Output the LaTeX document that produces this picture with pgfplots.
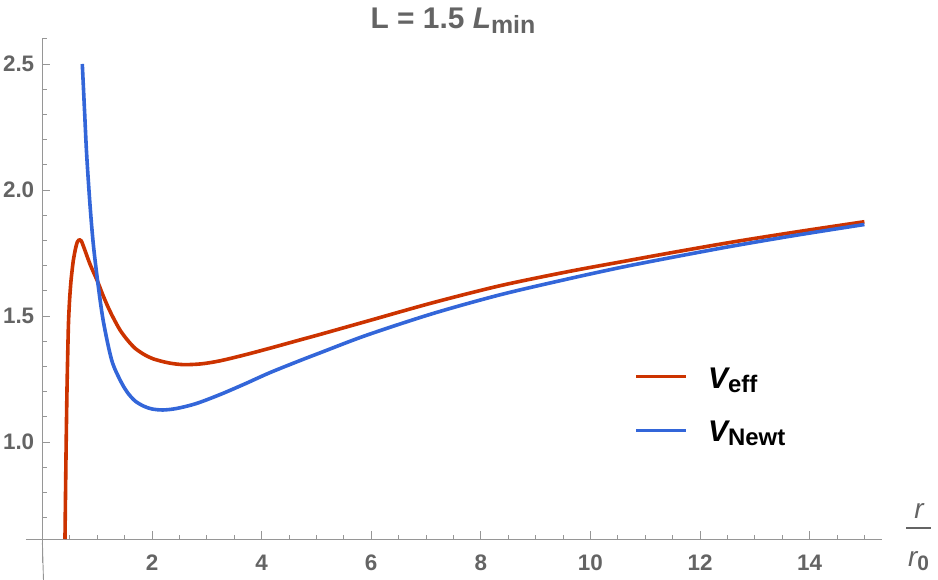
\documentclass[border=0pt]{standalone}
\usepackage{fontspec}
\setmainfont{Liberation Sans}
\usepackage{pgfplots}
\pgfplotsset{compat=1.18}
\definecolor{veffred}{RGB}{204,51,0}
\definecolor{vnewtblue}{RGB}{51,102,217}
\definecolor{axisgray}{RGB}{150,150,150}
\definecolor{labgray}{RGB}{100,100,100}

\begin{document}
\begin{tikzpicture}
\useasboundingbox (0,0) rectangle (938bp,580bp);
\begin{axis}[
  x=54.8bp, y=252bp,
  at={(42.4bp,41bp)}, anchor=south west,
  xmin=0, xmax=15.32, ymin=0.615, ymax=2.6,
  axis x line=bottom, axis y line=left,
  axis line style={axisgray, line width=0.9bp, -},
  tick style={axisgray, line width=0.9bp},
  tick align=inside,
  major tick length=8bp, minor tick length=4.5bp,
  xtick={2,4,6,8,10,12,14}, xticklabels={2,4,6,8,10,12,14},
  minor xtick={0.5,1,...,15},
  ytick={1,1.5,2,2.5}, yticklabels={1.0,1.5,2.0,2.5},
  minor ytick={0.7,0.8,0.9,1.1,1.2,1.3,1.4,1.6,1.7,1.8,1.9,2.1,2.2,2.3,2.4,2.6},
  xticklabel style={font=\fontsize{22.5}{22.5}\selectfont\bfseries, text=labgray, anchor=base, yshift=-31bp},
  yticklabel style={font=\fontsize{22.5}{22.5}\selectfont\bfseries, text=labgray, anchor=east, inner sep=0pt, xshift=-8bp},
  clip=false,
]
% effective potential
\addplot[veffred, line width=3.6bp, smooth, tension=0.5, line join=round] coordinates {
  (0.412,0.615) (0.431,0.95) (0.449,1.21) (0.473,1.45) (0.49,1.54)
  (0.504,1.59) (0.52,1.635) (0.534,1.665) (0.564,1.72) (0.607,1.77)
  (0.64,1.795) (0.674,1.803)
  (0.71,1.798) (0.777,1.76) (0.84,1.722) (0.899,1.69) (1.009,1.636)
  (1.1,1.585) (1.203,1.533) (1.3,1.49) (1.42,1.443) (1.55,1.405)
  (1.69,1.372) (1.85,1.348) (2.02,1.330) (2.3,1.314) (2.57,1.307)
  (2.9,1.31) (3.24,1.322) (3.7,1.346) (4.15,1.372) (4.70,1.405)
  (5.07,1.427) (5.92,1.479) (7.13,1.553) (8.35,1.620) (9.57,1.675)
  (10.54,1.714) (11.5,1.752) (12.61,1.794) (13.8,1.835) (15.0,1.874)
};
% Newtonian potential
\addplot[vnewtblue, line width=3.6bp, smooth, tension=0.5, line join=round] coordinates {
  (0.728,2.50) (0.77,2.31) (0.808,2.14) (0.869,1.94) (0.929,1.785)
  (1.009,1.636) (1.111,1.48) (1.264,1.325) (1.42,1.245) (1.55,1.197)
  (1.69,1.163) (1.85,1.142) (2.0,1.131) (2.2,1.127) (2.45,1.133)
  (2.8,1.152) (3.24,1.188) (3.7,1.231) (4.15,1.275) (4.70,1.323)
  (5.07,1.354) (5.92,1.424) (7.13,1.510) (8.35,1.584) (9.57,1.646)
  (10.54,1.692) (11.5,1.733) (12.61,1.778) (13.8,1.822) (15.0,1.863)
};
% axis stubs beyond the crossing point
\draw[axisgray, line width=0.9bp] (axis cs:-0.3,0.615) -- (axis cs:0,0.615);
\draw[axisgray, line width=0.9bp] (axis cs:0,0.52) -- (axis cs:0,0.615);
\draw[axisgray, line width=0.9bp] (axis cs:0,0.6) -- ++(4.5bp,0);
\end{axis}

% title
\node[anchor=base, inner sep=0pt, text=labgray] at (453bp,551.7bp)
  {\fontsize{30}{30}\selectfont\bfseries L = 1.5 \itshape L\upshape\raisebox{-5bp}{\fontsize{25}{25}\selectfont min}};

% axis label r / r0
\node[anchor=base, inner sep=0pt, text=labgray] at (919bp,61.7bp)
  {\fontsize{28}{28}\selectfont\itshape r};
\draw[labgray, line width=1.8bp] (906bp,52bp) -- (931bp,52bp);
\node[anchor=base, inner sep=0pt, text=labgray] at (918.5bp,14bp)
  {\fontsize{28}{28}\selectfont\itshape r\upshape\raisebox{-4bp}{\fontsize{21}{21}\selectfont\bfseries 0}};

% legend
\draw[veffred, line width=3.6bp] (636bp,203.3bp) -- (686bp,203.3bp);
\node[anchor=base west, inner sep=0pt] at (708bp,191.7bp)
  {\fontsize{30}{30}\selectfont\bfseries\itshape V\upshape\raisebox{-4.3bp}{\fontsize{24}{24}\selectfont eff}};
\draw[vnewtblue, line width=3.6bp] (636bp,149.3bp) -- (686bp,149.3bp);
\node[anchor=base west, inner sep=0pt] at (708bp,138.3bp)
  {\fontsize{30}{30}\selectfont\bfseries\itshape V\upshape\raisebox{-4.3bp}{\fontsize{24}{24}\selectfont Newt}};
\end{tikzpicture}
\end{document}
